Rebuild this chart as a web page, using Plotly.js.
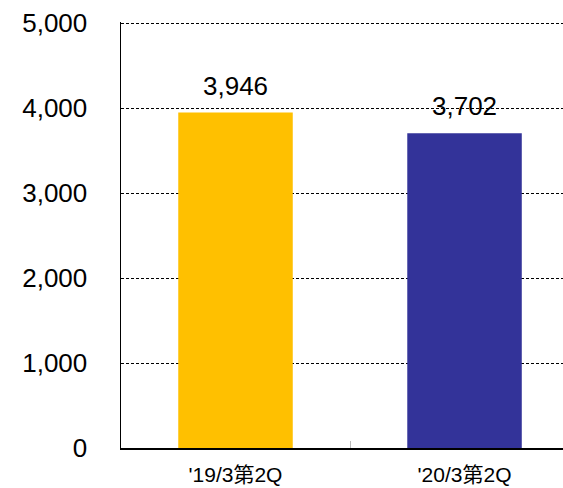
<!DOCTYPE html>
<html>
<head>
<meta charset="utf-8">
<script src="https://cdn.plot.ly/plotly-3.0.1.min.js"></script>
<style>html,body{margin:0;padding:0;background:#fff;}#chart{width:563px;height:488px;}</style>
</head>
<body>
<div id="chart"></div>
<script>
const categories = ["'19/3第2Q", "'20/3第2Q"];
const values = [3946, 3702];
const barColors = ["#FFC000", "#333399"];
const yTicks = [0, 1000, 2000, 3000, 4000, 5000];

const FONT = '"Liberation Sans", Arial, "Noto Sans CJK JP", sans-serif';

const trace = {
  type: 'bar',
  x: categories,
  y: values,
  width: 0.5,
  marker: {color: barColors},
  hoverinfo: 'skip'
};

const annotations = categories.map((c, i) => ({
  x: c, y: values[i], xref: 'x', yref: 'y',
  text: values[i].toLocaleString('en-US'),
  showarrow: false, yanchor: 'middle', yshift: 27,
  font: {family: FONT, size: 26, color: '#000'}
}));

const layout = {
  width: 563, height: 488,
  margin: {l: 121, r: 0, t: 22, b: 40, pad: 0},
  paper_bgcolor: '#fff', plot_bgcolor: '#fff',
  showlegend: false,
  font: {family: FONT, color: '#000'},
  xaxis: {
    type: 'category',
    range: [-0.5, 1.43],
    showline: true, linecolor: '#000', linewidth: 1.5,
    showgrid: false, zeroline: false,
    ticks: 'inside', tickson: 'boundaries', ticklen: 7, tickcolor: '#bbb', tickwidth: 1,
    tickfont: {family: FONT, size: 21, color: '#000'},
    ticklabelstandoff: 7
  },
  yaxis: {
    range: [0, 5012],
    tickvals: yTicks,
    ticktext: yTicks.map(v => v.toLocaleString('en-US')),
    showline: true, linecolor: '#000', linewidth: 1.5,
    showgrid: true, gridcolor: '#000', gridwidth: 1, griddash: '3px,2px',
    zeroline: false,
    ticks: '',
    tickfont: {family: FONT, size: 26, color: '#000'},
    ticklabelstandoff: 27
  },
  annotations: annotations
};

Plotly.newPlot('chart', [trace], layout, {staticPlot: true, displayModeBar: false});
</script>
</body>
</html>
